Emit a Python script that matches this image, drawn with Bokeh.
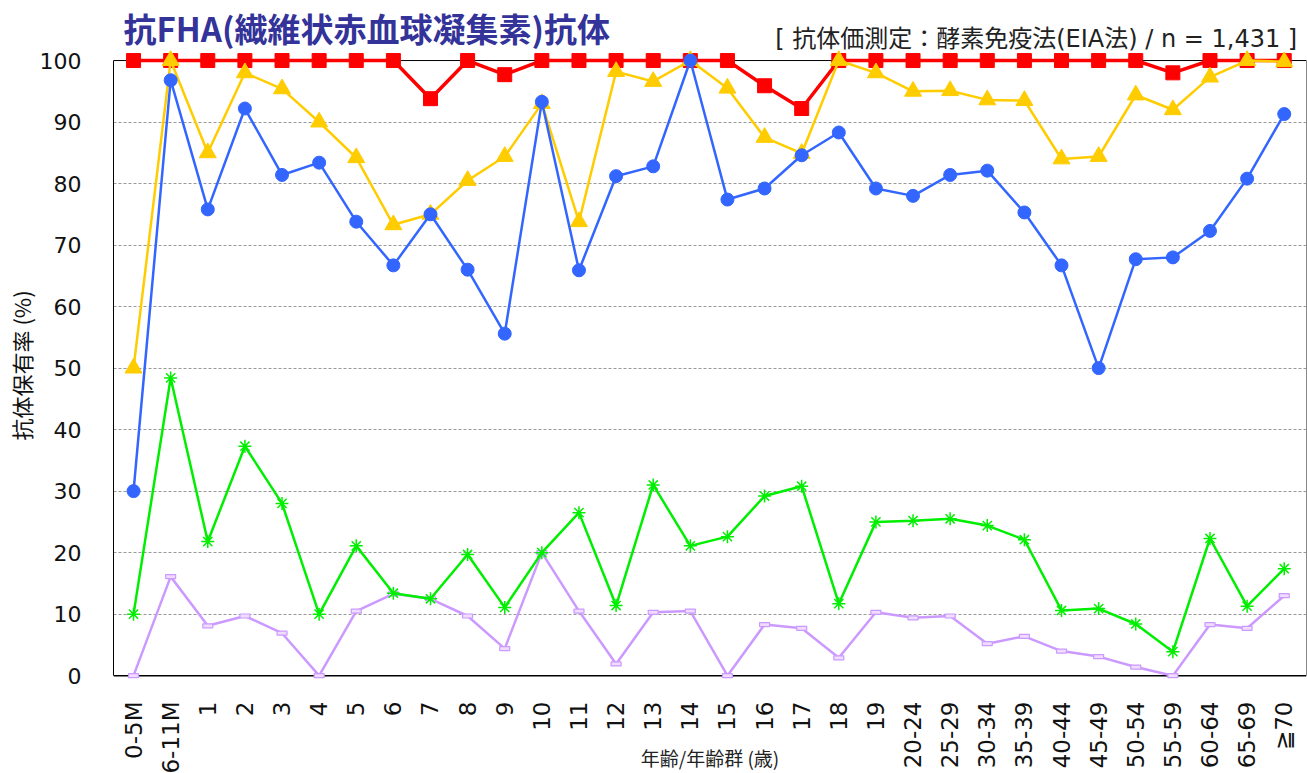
import math
from bokeh.plotting import figure
from bokeh.models import Range1d, FixedTicker, LinearAxis, Span, Label, Title
from bokeh.embed import file_html
from bokeh.resources import INLINE

categories = ["0-5M", "6-11M", "1", "2", "3", "4", "5", "6", "7", "8", "9", "10",
              "11", "12", "13", "14", "15", "16", "17", "18", "19",
              "20-24", "25-29", "30-34", "35-39", "40-44", "45-49", "50-54",
              "55-59", "60-64", "65-69", "≧70"]

red = [100, 100, 100, 100, 100, 100, 100, 100, 93.8, 100, 97.7, 100, 100, 100, 100, 100,
       100, 95.9, 92.2, 100, 100, 100, 100, 100, 100, 100, 100, 100, 98.0, 100, 100, 100]
yellow = [50, 100, 85, 98, 95.4, 90, 84.2, 73.3, 75, 80.5, 84.4, 93, 73.8, 98.2, 96.6, 100,
          95.5, 87.5, 84.9, 100, 98, 95, 95.1, 93.6, 93.5, 84, 84.4, 94.4, 92, 97.3, 100, 99.8]
blue = [30, 96.8, 75.8, 92.2, 81.4, 83.4, 73.8, 66.7, 75, 66, 55.6, 93.3, 65.9, 81.2, 82.8, 100,
        77.4, 79.2, 84.6, 88.3, 79.2, 78, 81.4, 82.1, 75.3, 66.7, 50, 67.7, 68, 72.3, 80.8, 91.3]
green = [10, 48.4, 21.8, 37.3, 28, 10, 21.1, 13.4, 12.5, 19.7, 11.1, 20, 26.5, 11.4, 31, 21.1,
         22.6, 29.2, 30.8, 11.7, 25, 25.2, 25.5, 24.4, 22.1, 10.6, 10.9, 8.4, 3.9, 22.3, 11.3, 17.4]
purple = [0, 16.1, 8.1, 9.7, 6.9, 0, 10.5, 13.3, 12.5, 9.7, 4.4, 20, 10.5, 1.9, 10.3, 10.5,
          0, 8.3, 7.7, 2.9, 10.3, 9.4, 9.7, 5.2, 6.4, 4, 3.1, 1.4, 0, 8.3, 7.7, 13]

y_ticks = [0, 10, 20, 30, 40, 50, 60, 70, 80, 90, 100]

title_text = "抗FHA(繊維状赤血球凝集素)抗体"
note_text = "[ 抗体価測定：酵素免疫法(EIA法) / n = 1,431 ]"
x_title = "年齢/年齢群 (歳)"
y_title = "抗体保有率 (%)"

xs = list(range(len(categories)))

p = figure(width=1307, height=773, output_backend="svg", toolbar_location=None,
           x_range=Range1d(-0.54, 31.6), y_range=Range1d(-1.6, 109.76),
           min_border_left=113, min_border_right=1, min_border_top=0, min_border_bottom=88,
           background_fill_color="white", border_fill_color="white",
           outline_line_color=None)

p.xgrid.visible = False
p.ygrid.ticker = FixedTicker(ticks=y_ticks)
p.ygrid.grid_line_color = "#999999"
p.ygrid.grid_line_dash = "3 2"
p.ygrid.grid_line_width = 1

ya = p.yaxis[0]
ya.ticker = FixedTicker(ticks=y_ticks)
ya.bounds = (0, 100)
ya.axis_line_color = "black"
ya.axis_line_width = 1
ya.major_tick_line_color = None
ya.minor_tick_line_color = None
ya.major_label_standoff = 26
ya.major_label_text_font = "DejaVu Sans"
ya.major_label_text_font_size = "22px"
ya.major_label_text_color = "#111111"

p.add_layout(Title(text=y_title, align="left", offset=245, standoff=0,
                   text_font="Noto Sans CJK JP", text_font_size="22px",
                   text_font_style="normal", text_color="#111111"), "left")

xa = p.xaxis[0]
xa.ticker = FixedTicker(ticks=xs)
xa.major_label_overrides = {i: c for i, c in enumerate(categories)}
xa.major_label_orientation = math.pi / 2
xa.axis_line_color = None
xa.major_tick_line_color = None
xa.minor_tick_line_color = None
xa.major_label_standoff = 10
xa.major_label_text_font = "DejaVu Sans"
xa.major_label_text_font_size = "23px"
xa.major_label_text_color = "#111111"
xa.axis_label = x_title
xa.axis_label_text_font = "Noto Sans CJK JP"
xa.axis_label_text_font_size = "19px"
xa.axis_label_text_font_style = "normal"
xa.axis_label_text_color = "#222222"
xa.axis_label_standoff = -33

ra = LinearAxis(ticker=FixedTicker(ticks=[]), bounds=(0, 100), axis_line_color="#888888",
                major_tick_line_color=None, minor_tick_line_color=None,
                major_label_standoff=0)
p.add_layout(ra, "right")

p.add_layout(Span(location=0, dimension="width", line_color="black", line_width=1.5, level="underlay"))
p.add_layout(Span(location=100, dimension="width", line_color="black", line_width=1, level="underlay"))

# purple
p.line(xs, purple, line_color="#cc99ff", line_width=2.5)
p.rect(xs, purple, width=10, height=4, width_units="screen", height_units="screen",
       fill_color="#eeddff", line_color="#cc99ff", line_width=1.2)
# green
p.line(xs, green, line_color="#00ee00", line_width=2.5)
p.scatter(xs, green, marker="asterisk", size=13, line_color="#00ee00", line_width=1.5)
# red
p.line(xs, red, line_color="#ff0000", line_width=3.5)
p.scatter(xs, red, marker="square", size=14, fill_color="#ff0000", line_color="#ff0000")
# yellow
p.line(xs, yellow, line_color="#ffcc00", line_width=2.5)
p.scatter(xs, yellow, marker="triangle", size=17, fill_color="#ffcc00", line_color="#ffcc00")
# blue
p.line(xs, blue, line_color="#3366ff", line_width=2.5)
p.scatter(xs, blue, marker="circle", size=13, fill_color="#3366ff", line_color="#3366ff")

p.add_layout(Label(x=-0.27, y=105.3, text=title_text, text_font="Noto Sans CJK JP",
                   text_font_size="33px", text_font_style="bold", text_color="#333399",
                   text_baseline="middle", text_align="left"))
p.add_layout(Label(x=31.35, y=103.5, text=note_text, text_font="DejaVu Sans, Noto Sans CJK JP",
                   text_font_size="24px", text_color="#222222",
                   text_baseline="middle", text_align="right"))

open("out.html", "w").write(file_html(p, INLINE))
